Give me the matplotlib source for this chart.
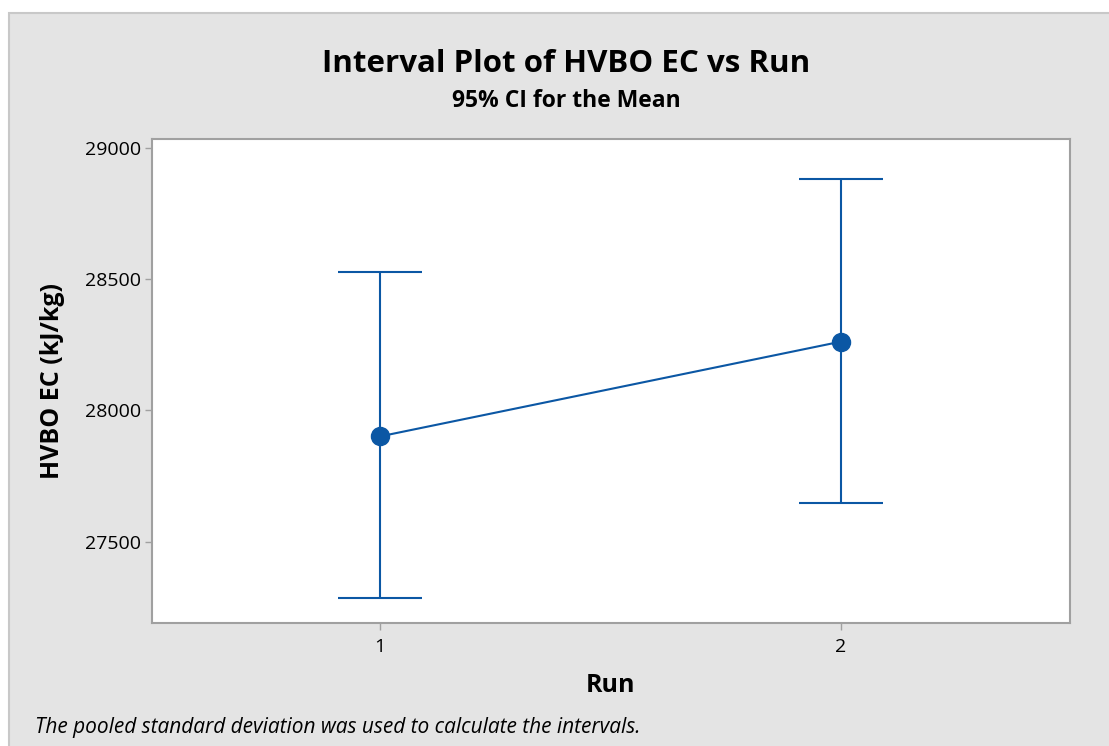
import matplotlib.pyplot as plt
from matplotlib.patches import Rectangle

# data
runs = [1, 2]
means = [27901, 28262]
lower = [27285, 27646]
upper = [28528, 28882]

plt.rcParams['font.family'] = ['Open Sans', 'DejaVu Sans']

fig = plt.figure(figsize=(11.09, 7.46), dpi=100)
fig.patch.set_facecolor('white')

# gray outer panel with thin border
W, H = 1109, 746
panel = Rectangle((9 / W, -0.01), 1.02 - 9 / W, (H - 13) / H + 0.01,
                  transform=fig.transFigure, facecolor='#e4e4e4',
                  edgecolor='#c8c8c8', linewidth=1.5, zorder=-10)
fig.patches.append(panel)

ax = fig.add_axes([152 / W, (H - 623) / H, (1070 - 152) / W, (623 - 139) / H])
ax.set_facecolor('white')

blue = '#0b57a4'
err_lo = [m - l for m, l in zip(means, lower)]
err_hi = [u - m for m, u in zip(means, upper)]
ax.errorbar(runs, means, yerr=[err_lo, err_hi], fmt='o-', color=blue,
            ecolor=blue, elinewidth=1.5, capsize=30, capthick=1.5,
            markersize=13, linewidth=1.5, zorder=3)

ax.set_xlim(0.505, 2.497)
ax.set_ylim(27190, 29034)
ax.set_xticks(runs)
ax.set_yticks([27500, 28000, 28500, 29000])

for s in ax.spines.values():
    s.set_color('#a0a0a0')
    s.set_linewidth(1.5)
ax.tick_params(colors='#a0a0a0', length=5, width=1, labelcolor='black',
               labelsize=14)
ax.tick_params(axis='x', pad=6)
ax.tick_params(axis='y', pad=3)

ax.set_xlabel('Run', fontsize=18, fontweight='bold', labelpad=12)
ax.set_ylabel('HVBO EC (kJ/kg)', fontsize=18, fontweight='bold', labelpad=14)

fig.text(566 / W, 1 - 64 / H, 'Interval Plot of HVBO EC vs Run',
         ha='center', va='center', fontsize=22.5, fontweight='bold')
fig.text(566 / W, 1 - 101 / H, '95% CI for the Mean',
         ha='center', va='center', fontsize=16.5, fontweight='bold')
fig.text(35 / W, 1 - 728 / H,
         'The pooled standard deviation was used to calculate the intervals.',
         ha='left', va='center', fontsize=15, style='italic')

fig.savefig('out.png', dpi=100, facecolor=fig.get_facecolor())
